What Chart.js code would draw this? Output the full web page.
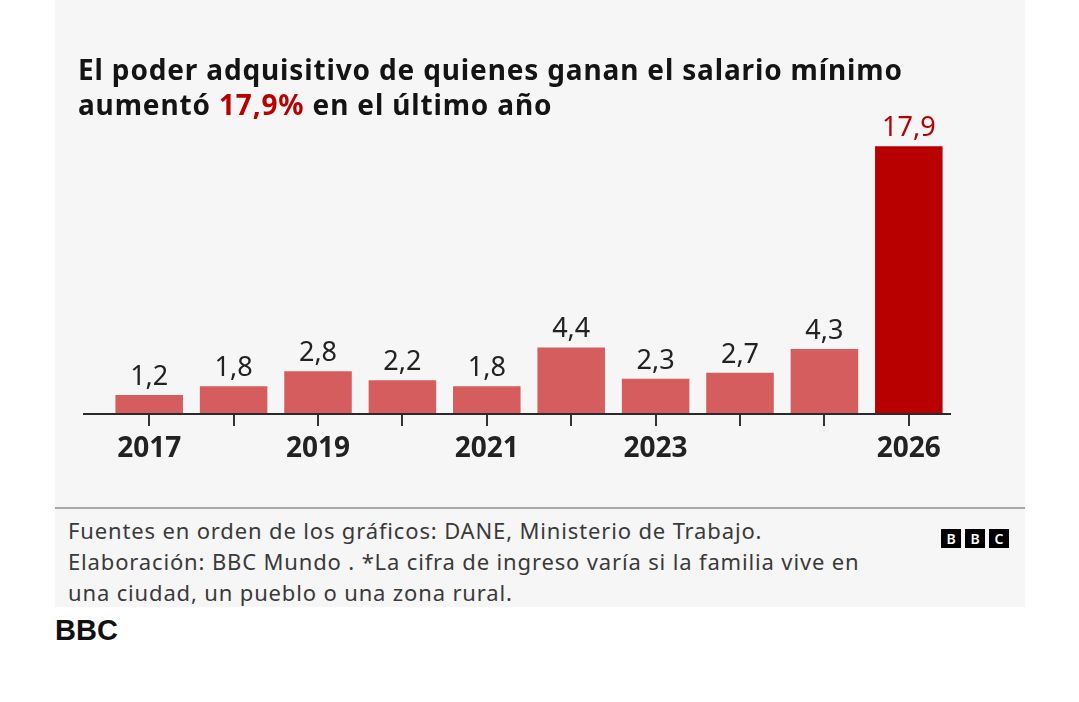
<!DOCTYPE html>
<html>
<head>
<meta charset="utf-8">
<script src="https://cdn.jsdelivr.net/npm/chart.js@4"></script>
<style>
    body { margin: 0; background: #fff; width: 1079px; height: 702px; overflow: hidden; position: relative; font-family: "Noto Sans", sans-serif; }
    #panel { position: absolute; left: 55px; top: 0; width: 970px; height: 607px; background: #f6f6f6; }
    #title { position: absolute; left: 23px; top: 52px; font-weight: 700; font-size: 28px; letter-spacing: 0.85px; line-height: 35px; color: #141414; white-space: nowrap; }
    #title .hl { color: #b80000; }
    #chart { position: absolute; left: 0; top: 0; }
    #sep { position: absolute; left: 0; top: 507px; width: 970px; height: 2px; background: #a8a8a8; }
    #foot { position: absolute; left: 13px; top: 515px; font-size: 22px; letter-spacing: 0.85px; line-height: 31px; color: #3a3a3a; white-space: nowrap; }
    #logo { position: absolute; left: 886px; top: 529px; display: flex; gap: 4px; }
    #logo span { width: 20px; height: 19px; background: #000; color: #fff; font-weight: 600; font-size: 14px; line-height: 19px; text-align: center; }
    #brand { position: absolute; left: 55px; top: 614px; font-family: "Liberation Sans", Arial, sans-serif; font-weight: 700; font-size: 29px; color: #111; }
</style>
</head>
<body>
<div id="panel">
    <canvas id="chart" width="970" height="500"></canvas>
    <div id="title">El poder adquisitivo de quienes ganan el salario mínimo<br>aumentó <span class="hl">17,9%</span> en el último año</div>
    <div id="sep"></div>
    <div id="foot">Fuentes en orden de los gráficos: DANE, Ministerio de Trabajo.<br>Elaboración: BBC Mundo . *La cifra de ingreso varía si la familia vive en<br>una ciudad, un pueblo o una zona rural.</div>
    <div id="logo"><span>B</span><span>B</span><span>C</span></div>
</div>
<div id="brand">BBC</div>
<script>
// Data
const years = ['2017', '2018', '2019', '2020', '2021', '2022', '2023', '2024', '2025', '2026'];
const values = [1.2, 1.8, 2.8, 2.2, 1.8, 4.4, 2.3, 2.7, 4.3, 17.9];
const tickLabels = ['2017', '', '2019', '', '2021', '', '2023', '', '', '2026'];

const lastIndex = values.length - 1;
const fmt = (v) => v.toFixed(1).replace('.', ',');

// axis line (runs a little past the first bar) + value labels
const barLabels = {
    id: 'barLabels',
    afterDatasetsDraw(chart) {
        const ctx = chart.ctx;
        const area = chart.chartArea;
        ctx.save();
        ctx.strokeStyle = '#2a2a2a';
        ctx.lineWidth = 2;
        ctx.beginPath();
        ctx.moveTo(area.left - 24, area.bottom + 1);
        ctx.lineTo(area.right, area.bottom + 1);
        ctx.stroke();

        ctx.font = '27px "Noto Sans"';
        ctx.textAlign = 'center';
        ctx.textBaseline = 'alphabetic';
        chart.getDatasetMeta(0).data.forEach((bar, i) => {
            ctx.fillStyle = i === lastIndex ? '#b80000' : '#222';
            ctx.fillText(fmt(values[i]), bar.x, bar.y - 10);
        });
        ctx.restore();
    }
};

new Chart(document.getElementById('chart'), {
    type: 'bar',
    data: {
        labels: years,
        datasets: [{
            data: values,
            backgroundColor: (c) => c.dataIndex === lastIndex ? '#b80000' : '#d55d5d',
            barPercentage: 0.8,
            categoryPercentage: 1.0
        }]
    },
    options: {
        responsive: false,
        animation: false,
        devicePixelRatio: 1,
        layout: { padding: { left: 52, right: 74, top: 115, bottom: 0 } },
        plugins: {
            legend: { display: false },
            tooltip: { enabled: false }
        },
        scales: {
            x: {
                grid: {
                    display: true,
                    drawOnChartArea: false,
                    drawTicks: true,
                    tickLength: 13,
                    offset: false,
                    color: '#333',
                    lineWidth: 2
                },
                border: { display: false },
                ticks: {
                    autoSkip: false,
                    maxRotation: 0,
                    padding: 6,
                    color: '#222',
                    font: { family: "'Noto Sans'", weight: 'bold', size: 28 },
                    callback: (v, i) => tickLabels[i]
                },
                afterFit: (s) => { s.height = 87; }
            },
            y: { display: false, min: 0, max: 20 }
        }
    },
    plugins: [barLabels]
});
</script>
</body>
</html>
